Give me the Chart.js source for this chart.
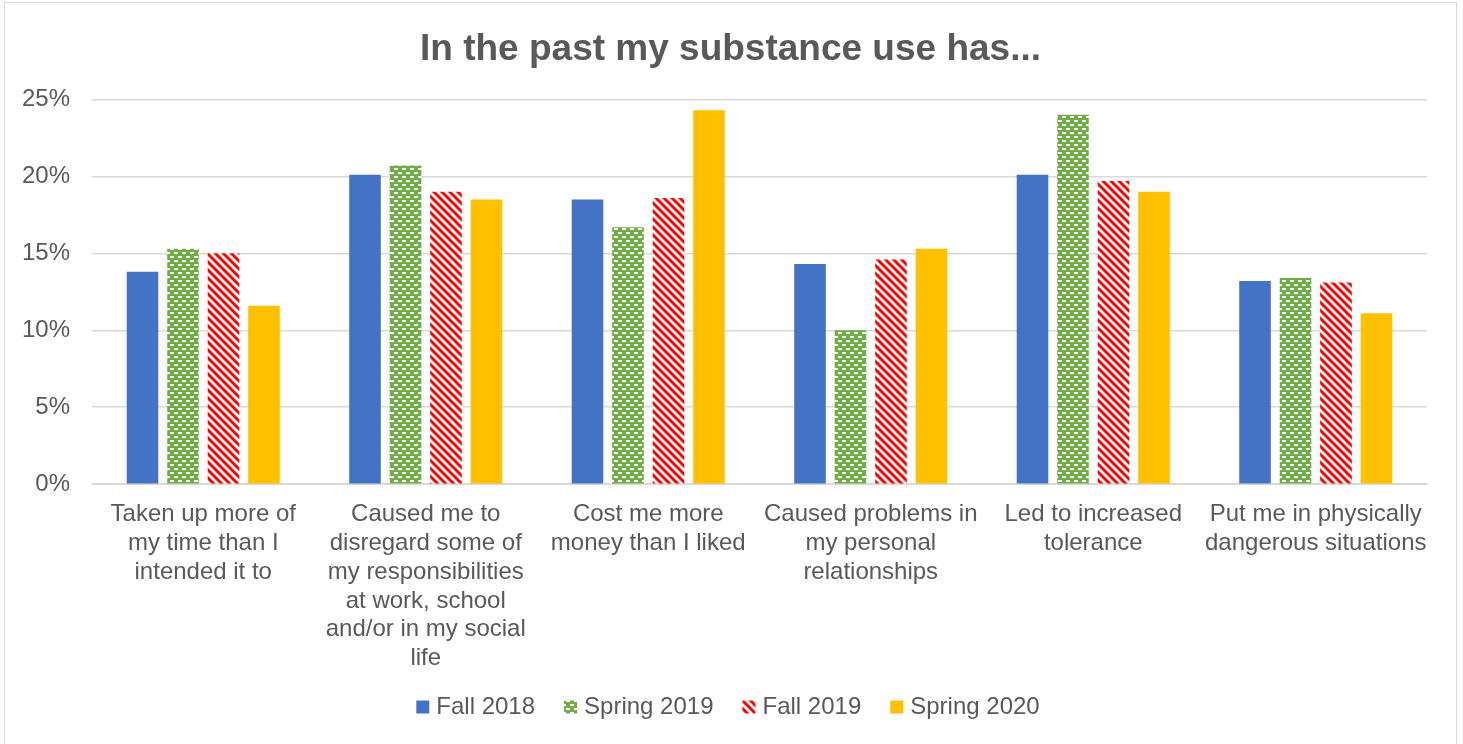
<!DOCTYPE html>
<html>
<head>
<meta charset="utf-8">
<script src="https://cdn.jsdelivr.net/npm/chart.js@4/dist/chart.umd.min.js"></script>
<style>
  html, body { margin: 0; padding: 0; background: #fff; overflow: hidden; }
  #wrap { position: absolute; left: 4px; top: 2px; width: 1451px; height: 741px;
          border: 1px solid #d9d9d9; border-bottom: none; }
</style>
</head>
<body>
<div id="wrap"><canvas id="chart"></canvas></div>
<script>
var categories = [
  ["Taken up more of", "my time than I", "intended it to"],
  ["Caused me to", "disregard some of", "my responsibilities", "at work, school", "and/or in my social", "life"],
  ["Cost me more", "money than I liked"],
  ["Caused problems in", "my personal", "relationships"],
  ["Led to increased", "tolerance"],
  ["Put me in physically", "dangerous situations"]
];
var fall2018 = [13.8, 20.1, 18.5, 14.3, 20.1, 13.2];
var spring2019 = [15.3, 20.7, 16.7, 10.0, 24.0, 13.4];
var fall2019 = [15.0, 19.0, 18.6, 14.6, 19.7, 13.1];
var spring2020 = [11.6, 18.5, 24.3, 15.3, 19.0, 11.1];

// green bars with small white dashes
function dashPattern(){
  var c = document.createElement('canvas');
  c.width = 8; c.height = 8;
  var g = c.getContext('2d');
  g.fillStyle = '#70ad47';
  g.fillRect(0, 0, 8, 8);
  g.fillStyle = '#ffffff';
  g.fillRect(1, 1, 4, 2);
  g.fillRect(5, 5, 4, 2);
  g.fillRect(-3, 5, 4, 2);
  return g.createPattern(c, 'repeat');
}

// red downward diagonal stripes on white
function stripePattern(){
  var c = document.createElement('canvas');
  c.width = 8; c.height = 8;
  var g = c.getContext('2d');
  g.fillStyle = '#ffffff';
  g.fillRect(0, 0, 8, 8);
  g.strokeStyle = '#ff0000';
  g.lineWidth = 3;
  g.beginPath();
  g.moveTo(-2, -2); g.lineTo(10, 10);
  g.moveTo(-6, 2); g.lineTo(2, 10);
  g.moveTo(2, -6); g.lineTo(10, 2);
  g.stroke();
  return g.createPattern(c, 'repeat');
}

var txt = '#595959';
Chart.defaults.font.family = '"Liberation Sans", Arial, sans-serif';
Chart.defaults.color = txt;

new Chart(document.getElementById('chart'), {
  type: 'bar',
  data: {
    labels: categories,
    datasets: [
      { label: 'Fall 2018', data: fall2018, backgroundColor: '#4472c4' },
      { label: 'Spring 2019', data: spring2019, backgroundColor: dashPattern() },
      { label: 'Fall 2019', data: fall2019, backgroundColor: stripePattern() },
      { label: 'Spring 2020', data: spring2020, backgroundColor: '#ffc000' }
    ]
  },
  options: {
    responsive: true,
    maintainAspectRatio: false,
    animation: false,
    datasets: { bar: { categoryPercentage: 0.728, barPercentage: 0.78 } },
    layout: { autoPadding: false, padding: { left: 11, right: 11, top: 11, bottom: 15 } },
    scales: {
      x: {
        grid: { display: false },
        border: { color: '#d9d9d9' },
        ticks: { color: txt, font: { size: 24 }, maxRotation: 0, autoSkip: false, padding: 8 }
      },
      y: {
        min: 0, max: 25,
        grid: { color: '#d9d9d9', lineWidth: 1.5, drawTicks: false },
        border: { display: false },
        ticks: { stepSize: 5, color: txt, font: { size: 24 }, padding: 22,
          callback: function(v){ return v + '%'; } },
        afterFit: function(scale){ scale.width = 76; }
      },
      // empty right margin so the plot ends short of the frame, like the original
      yRight: {
        position: 'right',
        grid: { display: false },
        border: { display: false },
        ticks: { display: false },
        afterFit: function(scale){ scale.width = 18; }
      }
    },
    plugins: {
      title: {
        display: true,
        text: 'In the past my substance use has...',
        color: txt,
        font: { size: 37, weight: 'bold' },
        padding: { top: 14, bottom: 27 }
      },
      legend: {
        position: 'bottom',
        labels: {
          color: txt, font: { size: 24 }, usePointStyle: true, pointStyle: 'rect',
          boxWidth: 3, boxHeight: 13, padding: 14,
          // extra space after each entry, as in the original legend
          generateLabels: function(chart){
            var items = Chart.defaults.plugins.legend.labels.generateLabels(chart);
            items.forEach(function(it, i){
              it.pointStyle = 'rect';
              if (i < items.length - 1) it.text += '   ';
            });
            return items;
          }
        }
      },
      tooltip: { enabled: false }
    }
  }
});
</script>
</body>
</html>
